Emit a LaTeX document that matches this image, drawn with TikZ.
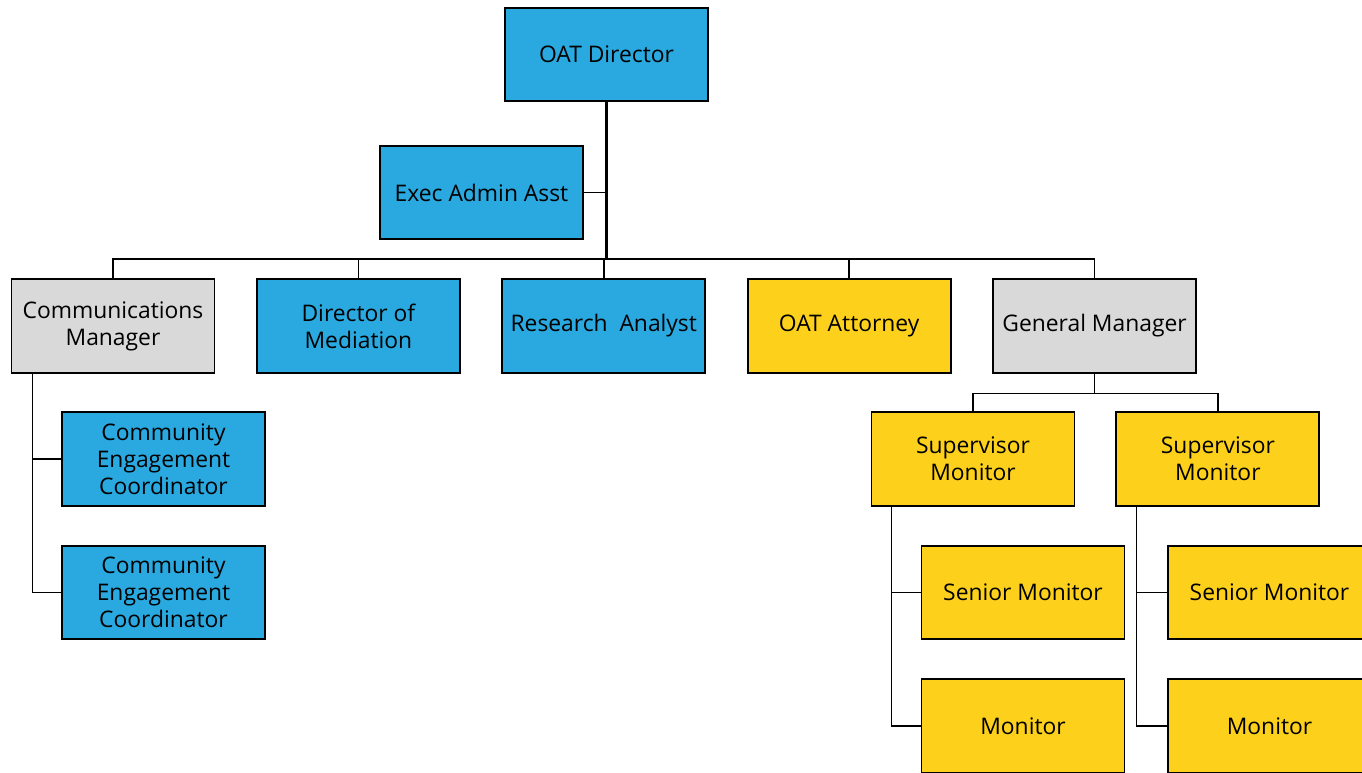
\documentclass[tikz,border=0pt]{standalone}
\usepackage{fontspec}
\setmainfont{Open Sans}
\usetikzlibrary{positioning}

\definecolor{oatblue}{HTML}{29A9E0}
\definecolor{oatgold}{HTML}{FDD11B}
\definecolor{oatgrey}{HTML}{D9D9D9}

\tikzset{
  post/.style={draw=black, line width=1.1pt, minimum width=4.06cm, minimum height=1.87cm,
    inner sep=1pt, align=center, font=\fontsize{13}{15.5}\selectfont},
  bluepost/.style={post, fill=oatblue},
  goldpost/.style={post, fill=oatgold},
  greypost/.style={post, fill=oatgrey},
  link/.style={line width=0.85pt},
  trunk/.style={line width=1.5pt}
}

\begin{document}
\begin{tikzpicture}[x=0.02cm,y=-0.02cm,node distance=0.81cm]
  \clip (0,0) rectangle (1362,773);
  % top
  \node[bluepost] (dir)  at (606.5,54.5)  {OAT Director};
  \node[bluepost] (exec) at (481.5,192.5) {Exec Admin Asst};
  \coordinate (bus) at (606,259);
  % second row
  \node[greypost] (comm) at (113,326)     {Communications\\Manager};
  \node[bluepost] (med)  [right=of comm]  {Director of\\Mediation};
  \node[bluepost] (res)  [right=of med]   {Research\ \ Analyst};
  \node[goldpost] (att)  [right=of res]   {OAT Attorney};
  \node[greypost] (gm)   [right=of att]   {General Manager};
  % under communications
  \node[bluepost] (ceng1) at (163.5,459)           {Community\\Engagement\\Coordinator};
  \node[bluepost] (ceng2) [below=0.76cm of ceng1] {Community\\Engagement\\Coordinator};
  % under general manager
  \coordinate (gmbus) at ([yshift=-0.4cm]gm.south);
  \node[goldpost] (sup1) at (973,459)            {Supervisor\\Monitor};
  \node[goldpost] (sup2) [right=0.8cm of sup1]   {Supervisor\\Monitor};
  \node[goldpost] (sen1) at (1023,592.5)         {Senior Monitor};
  \node[goldpost] (mon1) [below=0.76cm of sen1]  {Monitor};
  \node[goldpost] (sen2) at (1269.5,592.5)       {Senior Monitor};
  \node[goldpost] (mon2) [below=0.76cm of sen2]  {Monitor};

  \draw[trunk] (dir.south) -- (dir.south |- bus);
  \draw[link] (exec.east) -- (exec.east -| dir.south);
  \draw[link] (comm.north) |- (bus) -| (gm.north);
  \draw[link] (med.north) -- (med.north |- bus);
  \draw[link] (res.north) -- (res.north |- bus);
  \draw[link] (att.north) -- (att.north |- bus);
  \draw[link] ([xshift=0.44cm]comm.south west) |- (ceng1.west);
  \draw[link] ([xshift=0.44cm]comm.south west) |- (ceng2.west);
  \draw[link] (gm.south) -- (gmbus);
  \draw[link] (sup1.north) |- (gmbus) -| (sup2.north);
  \draw[link] ([xshift=0.42cm]sup1.south west) |- (sen1.west);
  \draw[link] ([xshift=0.42cm]sup1.south west) |- (mon1.west);
  \draw[link] ([xshift=0.42cm]sup2.south west) |- (sen2.west);
  \draw[link] ([xshift=0.42cm]sup2.south west) |- (mon2.west);
\end{tikzpicture}
\end{document}
